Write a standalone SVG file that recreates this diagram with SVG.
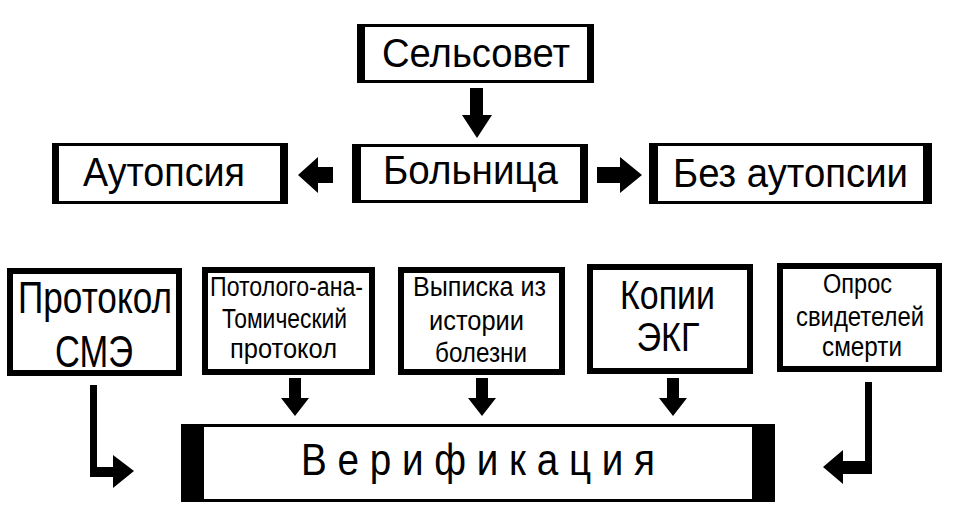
<svg xmlns="http://www.w3.org/2000/svg" width="960" height="530" viewBox="0 0 960 530">
<style>
text{font-family:"Liberation Sans",Arial,sans-serif;fill:#000;text-anchor:middle}
.frame{fill:#fff;stroke:#000;stroke-width:3}
.bar{fill:#000}
.box{fill:#fff;stroke:#000;stroke-width:6}
.arr{fill:#000}
.big{font-size:41px}
.mid{font-size:45px}
.kg{font-size:41px}
.sm{font-size:27px}
</style>
<rect width="960" height="530" fill="#fff"/>

<g id="selsovet">
<rect class="frame" x="358.5" y="25.5" width="234" height="56"/>
<rect class="bar" x="357" y="24" width="8" height="59"/>
<rect class="bar" x="587" y="24" width="7" height="59"/>
<text class="big" x="476" y="67" textLength="188" lengthAdjust="spacingAndGlyphs">Сельсовет</text>
</g>

<g id="bolnitsa">
<rect class="frame" x="353.5" y="145.5" width="233" height="56"/>
<rect class="bar" x="352" y="144" width="9" height="59"/>
<rect class="bar" x="580" y="144" width="8" height="59"/>
<text class="big" x="470.5" y="184" textLength="175" lengthAdjust="spacingAndGlyphs">Больница</text>
</g>

<g id="autopsia">
<rect class="frame" x="53.5" y="144.5" width="233" height="58"/>
<rect class="bar" x="52" y="143" width="7" height="61"/>
<rect class="bar" x="280" y="143" width="8" height="61"/>
<text class="big" x="164" y="186" textLength="162" lengthAdjust="spacingAndGlyphs">Аутопсия</text>
</g>

<g id="bez-autopsii">
<rect class="frame" x="650.5" y="144.5" width="280" height="58"/>
<rect class="bar" x="649" y="143" width="9" height="61"/>
<rect class="bar" x="923" y="143" width="9" height="61"/>
<text class="big" x="790.5" y="187" textLength="235" lengthAdjust="spacingAndGlyphs">Без аутопсии</text>
</g>

<g id="protokol-sme">
<rect class="box" x="10" y="271" width="169" height="102"/>
<text class="mid" x="95" y="313" textLength="154" lengthAdjust="spacingAndGlyphs">Протокол</text>
<text class="mid" x="94" y="367" textLength="78" lengthAdjust="spacingAndGlyphs">СМЭ</text>
</g>

<g id="pat-anat">
<rect class="box" x="205" y="270" width="167" height="102"/>
<text class="sm" x="286.5" y="296" textLength="153" lengthAdjust="spacingAndGlyphs">Потолого-ана-</text>
<text class="sm" x="284.5" y="328" textLength="125" lengthAdjust="spacingAndGlyphs">Томический</text>
<text class="sm" x="283.5" y="358" textLength="107" lengthAdjust="spacingAndGlyphs">протокол</text>
</g>

<g id="vypiska">
<rect class="box" x="401" y="270" width="161" height="102"/>
<text class="sm" x="479.5" y="296" textLength="133" lengthAdjust="spacingAndGlyphs">Выписка из</text>
<text class="sm" x="476.5" y="330" textLength="95" lengthAdjust="spacingAndGlyphs">истории</text>
<text class="sm" x="481" y="362" textLength="92" lengthAdjust="spacingAndGlyphs">болезни</text>
</g>

<g id="kopii-ekg">
<rect class="box" x="590" y="267" width="160" height="104"/>
<text class="kg" x="667.5" y="309" textLength="95" lengthAdjust="spacingAndGlyphs">Копии</text>
<text class="kg" x="668" y="351" textLength="63" lengthAdjust="spacingAndGlyphs">ЭКГ</text>
</g>

<g id="opros">
<rect class="box" x="780" y="266" width="159" height="103"/>
<text class="sm" x="857.5" y="293" textLength="69" lengthAdjust="spacingAndGlyphs">Опрос</text>
<text class="sm" x="860" y="326" textLength="128" lengthAdjust="spacingAndGlyphs">свидетелей</text>
<text class="sm" x="862" y="356" textLength="80" lengthAdjust="spacingAndGlyphs">смерти</text>
</g>

<g id="verifikatsia">
<rect class="frame" x="182.5" y="425.5" width="591" height="75"/>
<rect class="bar" x="181" y="424" width="23" height="78"/>
<rect class="bar" x="752" y="424" width="23" height="78"/>
<text x="478" y="475" font-size="44" textLength="354" lengthAdjust="spacingAndGlyphs">В е р и ф и к а ц и я</text>
</g>

<g id="connectors">
<polygon class="arr" points="470,88 483,88 483,115 492,115 477,138 462,115 470,115"/>
<polygon class="arr" points="333,167 318,167 318,157 298,175 318,193 318,183 333,183"/>
<polygon class="arr" points="597,167 620,167 620,157 642,175 620,193 620,183 597,183"/>
<polygon class="arr" points="289,378 301,378 301,398 309,398 295,416 281,398 289,398"/>
<polygon class="arr" points="476,378 488,378 488,398 496,398 482,416 468,398 476,398"/>
<polygon class="arr" points="667,378 679,378 679,398 687,398 673,416 659,398 667,398"/>
<polygon class="arr" points="90,385 97,385 97,467 113,467 113,455 134,471 113,488 113,477 90,477"/>
<polygon class="arr" points="865,382 872,382 872,474 843,474 843,484 823,467 843,450 843,461 865,461"/>
</g>
</svg>
